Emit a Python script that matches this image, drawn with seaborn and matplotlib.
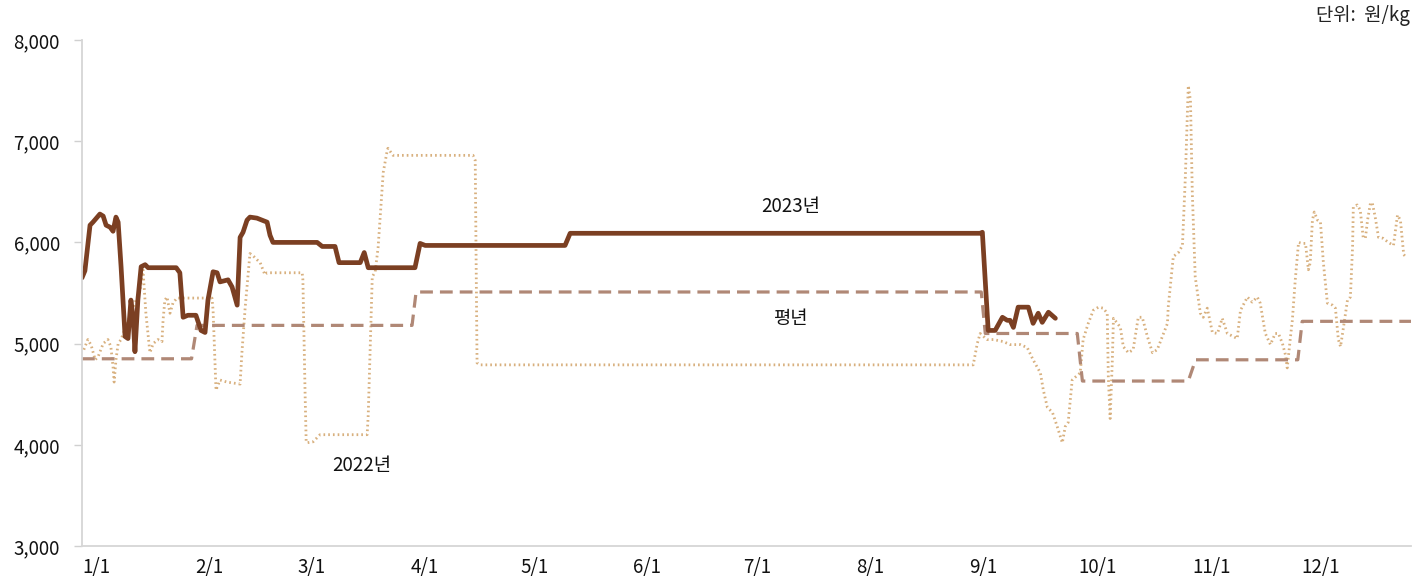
import matplotlib
matplotlib.use("Agg")
import matplotlib.pyplot as plt
import seaborn as sns
import pandas as pd

# ---- data (x = day of year, 0 = Jan 1) ----
days_2023 = [0, 0.8, 2.2, 3.0, 4.9, 5.8, 6.6, 7.7, 8.5, 9.3, 9.9, 10.7, 11.8, 12.6, 13.4, 14.0,
             14.5, 15.3, 16.2, 17.3, 18.1, 25.8, 26.8, 27.7, 29.0, 31.2, 32.6, 33.7, 34.5, 35.9,
             37.0, 37.8, 40.0, 41.1, 42.5, 43.3, 44.1, 45.2, 46.0, 47.9, 49.3, 50.7, 51.5, 52.3,
             64.4, 65.8, 69.3, 70.4, 76.2, 77.3, 78.4, 91.2, 92.6, 94.0, 132.3, 133.7, 246.0,
             246.6, 248.2, 250.1, 252.1, 253.4, 254.2, 255.1, 256.4, 259.2, 260.5, 261.9, 263.0,
             264.7, 266.6]
vals_2023 = [5650, 5720, 6170, 6200, 6280, 6260, 6170, 6150, 6110, 6250, 6200, 5760, 5070, 5050,
             5430, 5260, 4920, 5430, 5760, 5780, 5750, 5750, 5700, 5260, 5280, 5280, 5130, 5110,
             5430, 5710, 5700, 5610, 5630, 5560, 5380, 6050, 6100, 6220, 6250, 6240, 6220, 6200,
             6070, 6000, 6000, 5960, 5960, 5800, 5800, 5900, 5750, 5750, 5990, 5970, 5970, 6090,
             6090, 6100, 5130, 5130, 5260, 5230, 5230, 5160, 5360, 5360, 5200, 5300, 5210, 5310,
             5250]

days_avg = [0, 30.0, 31.5, 90.4, 91.5, 246.3, 247.4, 272.6, 274.0, 303.0, 305.0, 333.0, 334.2, 364]
vals_avg = [4850, 4850, 5180, 5180, 5510, 5510, 5100, 5100, 4630, 4630, 4840, 4840, 5220, 5220]

days_2022 = [0.5, 1.6, 2.5, 3.6, 4.4, 5.8, 7.1, 7.9, 8.5, 8.8, 9.3, 9.9, 10.7, 11.8, 15.9, 16.4,
             16.7, 17.5, 18.6, 19.5, 20.8, 21.9, 22.2, 22.7, 23.3, 24.1, 24.9, 26.0, 35.6, 35.9,
             36.7, 37.8, 39.7, 43.3, 43.8, 44.7, 46.0, 46.8, 47.9, 48.8, 50.1, 50.7, 60.3, 60.5,
             61.1, 61.4, 61.6, 63.3, 65.2, 78.1, 78.4, 79.5, 80.3, 81.1, 82.5, 83.6, 83.8, 85.2,
             107.1, 107.7, 108.2, 109.0, 244.1, 245.2, 246.0, 247.9, 249.6, 252.3, 254.2, 257.0,
             258.9, 260.5, 262.5, 263.3, 264.4, 265.8, 267.1, 268.5, 269.3, 270.1, 271.2, 272.1,
             273.4, 274.2, 275.6, 277.0, 278.4, 279.7, 280.8, 281.1, 281.6, 282.2, 282.5, 283.6,
             284.4, 285.2, 286.6, 287.9, 289.3, 290.4, 291.8, 293.2, 294.5, 295.9, 297.3, 297.5,
             298.9, 300.3, 301.4, 302.2, 303.0, 303.6, 304.1, 304.9, 306.3, 307.1, 308.2, 309.6,
             311.0, 312.3, 313.7, 316.4, 317.3, 319.2, 320.5, 321.9, 322.7, 324.1, 325.5, 326.8,
             327.7, 328.8, 329.6, 330.1, 331.0, 331.5, 332.3, 333.2, 334.2, 335.1, 335.9, 336.4,
             337.0, 337.5, 338.4, 339.2, 340.0, 341.1, 342.5, 343.3, 344.1, 344.7, 345.5, 346.6,
             347.4, 348.0, 348.2, 349.3, 350.1, 350.9, 351.5, 352.1, 352.9, 353.4, 354.2, 355.1,
             356.4, 357.8, 359.2, 360.3, 361.1, 362.0, 362.5]
vals_2022 = [4940, 5040, 4985, 4840, 4870, 5000, 5040, 4970, 4770, 4620, 4840, 5000, 5040, 5150,
             5530, 5660, 5730, 5300, 4910, 5000, 5040, 5020, 5230, 5430, 5460, 5300, 5400, 5450,
             5450, 5330, 4540, 4640, 4620, 4600, 4910, 5360, 5890, 5870, 5830, 5800, 5680, 5700,
             5700, 5630, 4510, 4030, 4020, 4030, 4100, 4100, 4300, 5660, 5710, 5950, 6690, 6910,
             6930, 6860, 6860, 6810, 4810, 4790, 4790, 5000, 5100, 5040, 5040, 5020, 4990, 4990,
             4960, 4840, 4710, 4540, 4370, 4320, 4180, 4020, 4180, 4220, 4640, 4670, 4710, 5040,
             5200, 5330, 5360, 5350, 5300, 4670, 4260, 4840, 5250, 5200, 5160, 4970, 4910, 4940,
             5260, 5260, 5070, 4910, 4940, 5070, 5200, 5360, 5860, 5900, 5970, 6650, 7550, 7400,
             6490, 5660, 5300, 5260, 5350, 5110, 5100, 5250, 5100, 5050, 5330, 5460, 5410, 5460,
             5400, 5100, 4990, 5100, 5100, 5000, 4890, 4760, 5070, 5230, 5630, 6000, 5990, 5990,
             5730, 5800, 6220, 6300, 6220, 6200, 5800, 5400, 5380, 5350, 5040, 4970, 5160, 5430,
             5460, 5960, 6350, 6370, 6320, 6050, 6040, 6220, 6390, 6390, 6250, 6050, 6040, 6000,
             5970, 6270, 6220, 5880, 5860]

month_starts = [0, 31, 59, 90, 120, 151, 181, 212, 243, 273, 304, 334]
month_labels = ["1/1", "2/1", "3/1", "4/1", "5/1", "6/1", "7/1", "8/1", "9/1", "10/1", "11/1", "12/1"]
y_ticks = [3000, 4000, 5000, 6000, 7000, 8000]

sns.set_style("white")
plt.rcParams["font.family"] = ["Noto Sans CJK KR", "DejaVu Sans"]

fig = plt.figure(figsize=(14.24, 5.81), dpi=100)
ax = fig.add_axes([82 / 1424, 1 - 546 / 581, (1411 - 82) / 1424, (546 - 40) / 581])

df22 = pd.DataFrame({"day": days_2022, "price": vals_2022})
dfavg = pd.DataFrame({"day": days_avg, "price": vals_avg})
df23 = pd.DataFrame({"day": days_2023, "price": vals_2023})

sns.lineplot(data=df22, x="day", y="price", ax=ax, color="#d8b07e", linewidth=2.0,
             sort=False, estimator=None)
ax.lines[-1].set_linestyle((0, (0.6, 1.1)))
sns.lineplot(data=dfavg, x="day", y="price", ax=ax, color="#b08876", linewidth=2.3,
             sort=False, estimator=None)
ax.lines[-1].set_linestyle((0, (4, 2.2)))
sns.lineplot(data=df23, x="day", y="price", ax=ax, color="#7b3f22", linewidth=3.4,
             sort=False, estimator=None)
ax.lines[-1].set_solid_joinstyle("round")

ax.set_xlim(0, 364)
ax.set_ylim(3000, 8000)
ax.set_xlabel("")
ax.set_ylabel("")

ax.set_yticks(y_ticks)
ax.set_yticklabels([f"{v:,}" for v in y_ticks], fontsize=13.5)
ax.set_xticks(month_starts)
ax.set_xticklabels(month_labels, fontsize=13.5, ha="left")
for lbl in ax.get_xticklabels():
    lbl.set_x(lbl.get_position()[0])

ax.tick_params(axis="y", length=6, width=1, color="#d0d0d0", pad=10, left=True, labelcolor="#111111")
ax.tick_params(axis="x", length=0, pad=8, labelcolor="#111111")

for s in ["top", "right"]:
    ax.spines[s].set_visible(False)
ax.spines["left"].set_color("#d6d6d6")
ax.spines["bottom"].set_color("#d6d6d6")
ax.spines["left"].set_linewidth(1.3)
ax.spines["bottom"].set_linewidth(1.3)

ax.text(194, 6350, "2023년", fontsize=13.5, ha="center", va="center", color="#111111")
ax.text(194, 5250, "평년", fontsize=13.5, ha="center", va="center", color="#111111")
ax.text(76.5, 3800, "2022년", fontsize=13.5, ha="center", va="center", color="#111111")

fig.text(1410 / 1424, 1 - 16 / 581, "단위:  원/kg", fontsize=13.5, ha="right", va="center", color="#222222")

fig.savefig("out.png", dpi=100)
